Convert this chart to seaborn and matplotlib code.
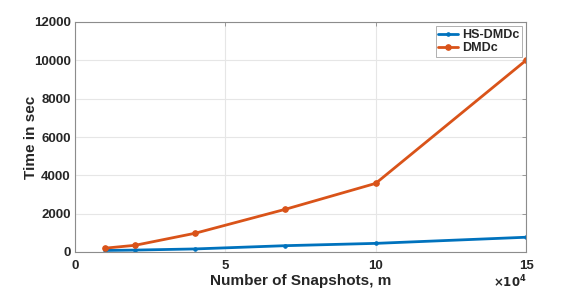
import matplotlib
matplotlib.use("Agg")
import matplotlib.pyplot as plt
import seaborn as sns
import pandas as pd

# Data (snapshots in units of 1e4)
snapshots = [1, 2, 4, 7, 10, 15]
hs_dmdc_time = [80, 100, 160, 330, 450, 770]
dmdc_time = [200, 350, 980, 2230, 3580, 10000]

df = pd.DataFrame({
    'm': snapshots * 2,
    'time': hs_dmdc_time + dmdc_time,
    'method': ['HS-DMDc'] * len(snapshots) + ['DMDc'] * len(snapshots),
})

sns.set_style("whitegrid")
plt.rcParams['font.family'] = ['Liberation Sans', 'DejaVu Sans']
plt.rcParams['font.weight'] = 'bold'

fig = plt.figure(figsize=(5.81, 2.90), dpi=100)
ax = fig.add_axes([75 / 581, 38 / 290, 451 / 581, 230 / 290])

colors = {'HS-DMDc': '#0072BD', 'DMDc': '#D95319'}
markers = {'HS-DMDc': '.', 'DMDc': 'o'}
for name in ['HS-DMDc', 'DMDc']:
    sub = df[df['method'] == name]
    sns.lineplot(x='m', y='time', data=sub, ax=ax, color=colors[name],
                 marker=markers[name], markersize=5 if name == 'HS-DMDc' else 4,
                 markeredgecolor=colors[name], linewidth=2, label=name)

ax.set_xlim(0, 15)
ax.set_ylim(0, 12000)
ax.set_xticks([0, 5, 10, 15])
ax.set_yticks(range(0, 12001, 2000))
ax.grid(True, color='#e6e6e6', linewidth=0.8)
for s in ax.spines.values():
    s.set_visible(True)
    s.set_color('#8c8c8c')
    s.set_linewidth(0.8)
ax.tick_params(direction='in', length=3, width=0.6, color='#8c8c8c',
               top=True, right=True, labelsize=9.5, labelcolor='#262626')
ax.tick_params(axis='x', pad=6)
ax.tick_params(axis='y', pad=3)
for lab in ax.get_xticklabels() + ax.get_yticklabels():
    lab.set_fontweight('bold')

ax.set_xlabel('Number of Snapshots, m', fontsize=11, fontweight='bold', color='#262626', labelpad=1)
ax.set_ylabel('Time in sec', fontsize=11, fontweight='bold', color='#262626', labelpad=-3)
fig.text(510 / 581, 1 - 287 / 290, r'$\times10^4$', fontsize=8.5, color='#262626',
         ha='center', va='baseline')

leg = ax.legend(loc='upper right', fontsize=9, frameon=True, fancybox=False,
                edgecolor='#8c8c8c', handlelength=1.6, handletextpad=0.3,
                borderpad=0.2, labelspacing=0.1, borderaxespad=0.35)
leg.get_frame().set_linewidth(0.6)
for t in leg.get_texts():
    t.set_fontweight('bold')

fig.savefig('out.png', dpi=100)
